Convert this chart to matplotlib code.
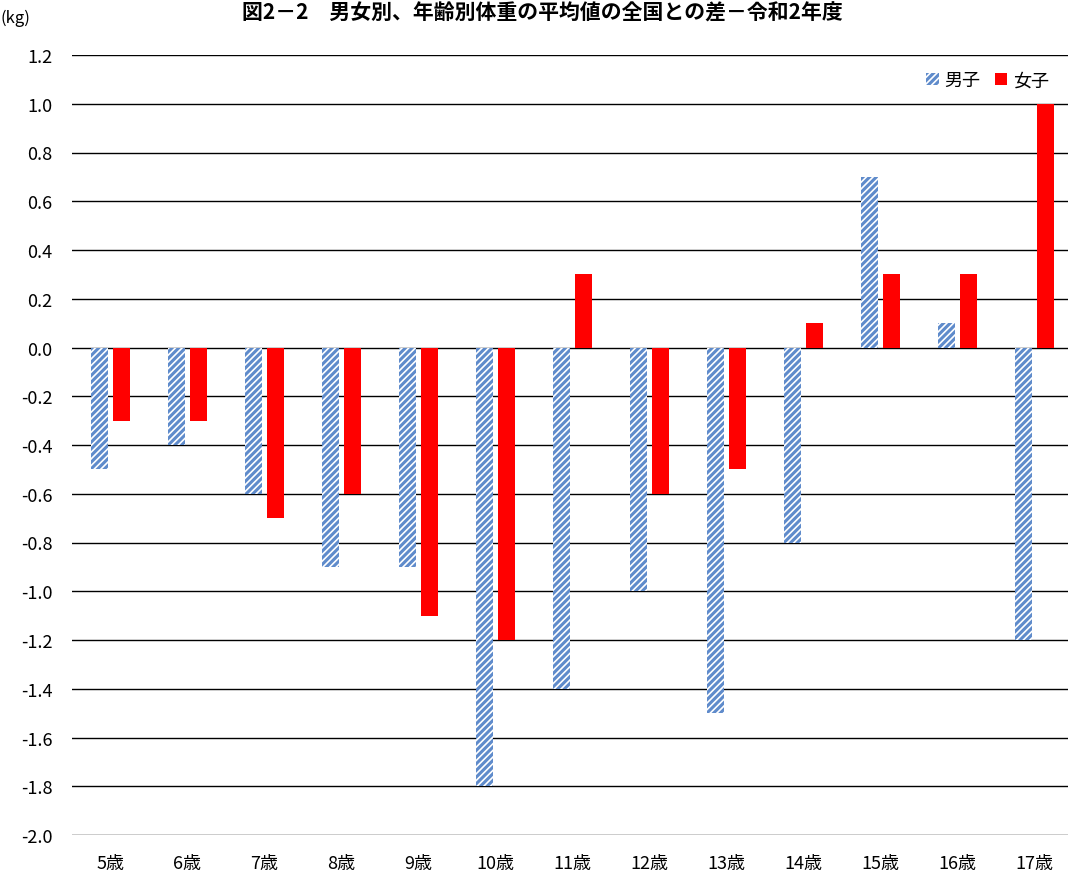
import matplotlib
matplotlib.use("Agg")
import matplotlib.pyplot as plt
import numpy as np

plt.rcParams['font.family'] = ['Noto Sans CJK JP', 'DejaVu Sans']
plt.rcParams['hatch.linewidth'] = 2.2
plt.rcParams['hatch.color'] = '#5F8BCB'

categories = ["5歳", "6歳", "7歳", "8歳", "9歳", "10歳", "11歳", "12歳", "13歳", "14歳", "15歳", "16歳", "17歳"]
male = [-0.5, -0.4, -0.6, -0.9, -0.9, -1.8, -1.4, -1.0, -1.5, -0.8, 0.7, 0.1, -1.2]
female = [-0.3, -0.3, -0.7, -0.6, -1.1, -1.2, 0.3, -0.6, -0.5, 0.1, 0.3, 0.3, 1.0]
yticks = [-2.0, -1.8, -1.6, -1.4, -1.2, -1.0, -0.8, -0.6, -0.4, -0.2, 0.0, 0.2, 0.4, 0.6, 0.8, 1.0, 1.2]

W, H = 1068, 879
fig = plt.figure(figsize=(W / 100, H / 100), dpi=100)
left, right, top, bottom = 72, 1073, 56, 836
ax = fig.add_axes([left / W, 1 - bottom / H, (right - left) / W, (bottom - top) / H])

x = np.arange(len(categories))
bw = 0.22
ax.bar(x - 0.14, male, width=bw, color='white', edgecolor='#5F8BCB', linewidth=0,
       hatch='/////', label='男子', zorder=3)
ax.bar(x + 0.14, female, width=bw, color='#FF0000', linewidth=0, label='女子', zorder=3)

ax.set_ylim(-2.0, 1.2)
ax.set_xlim(-0.5, len(categories) - 0.5)
ax.set_yticks(yticks)
ax.set_yticklabels([f"{v:.1f}" for v in yticks], fontsize=13)
ax.set_xticks(x)
ax.set_xticklabels(categories, fontsize=13)
ax.tick_params(axis='both', length=0)
ax.tick_params(axis='y', pad=14)
ax.tick_params(axis='x', pad=14)
for s in ax.spines.values():
    s.set_visible(False)
ax.yaxis.grid(True, color='black', linewidth=1.0, zorder=0)
ax.set_axisbelow(True)

ax.legend(loc='upper right', bbox_to_anchor=(0.992, 1.0), frameon=False, ncol=2,
          fontsize=13, handlelength=0.7, handleheight=0.7, handletextpad=0.3, columnspacing=0.8)

fig.text(542 / W, 1 - 13 / H, "図2－2　男女別、年齢別体重の平均値の全国との差－令和2年度",
         ha='center', va='center', fontsize=15, fontweight='bold')
fig.text(1 / W, 1 - 18 / H, "(kg)", ha='left', va='center', fontsize=12)

fig.savefig("out.png", dpi=100)
